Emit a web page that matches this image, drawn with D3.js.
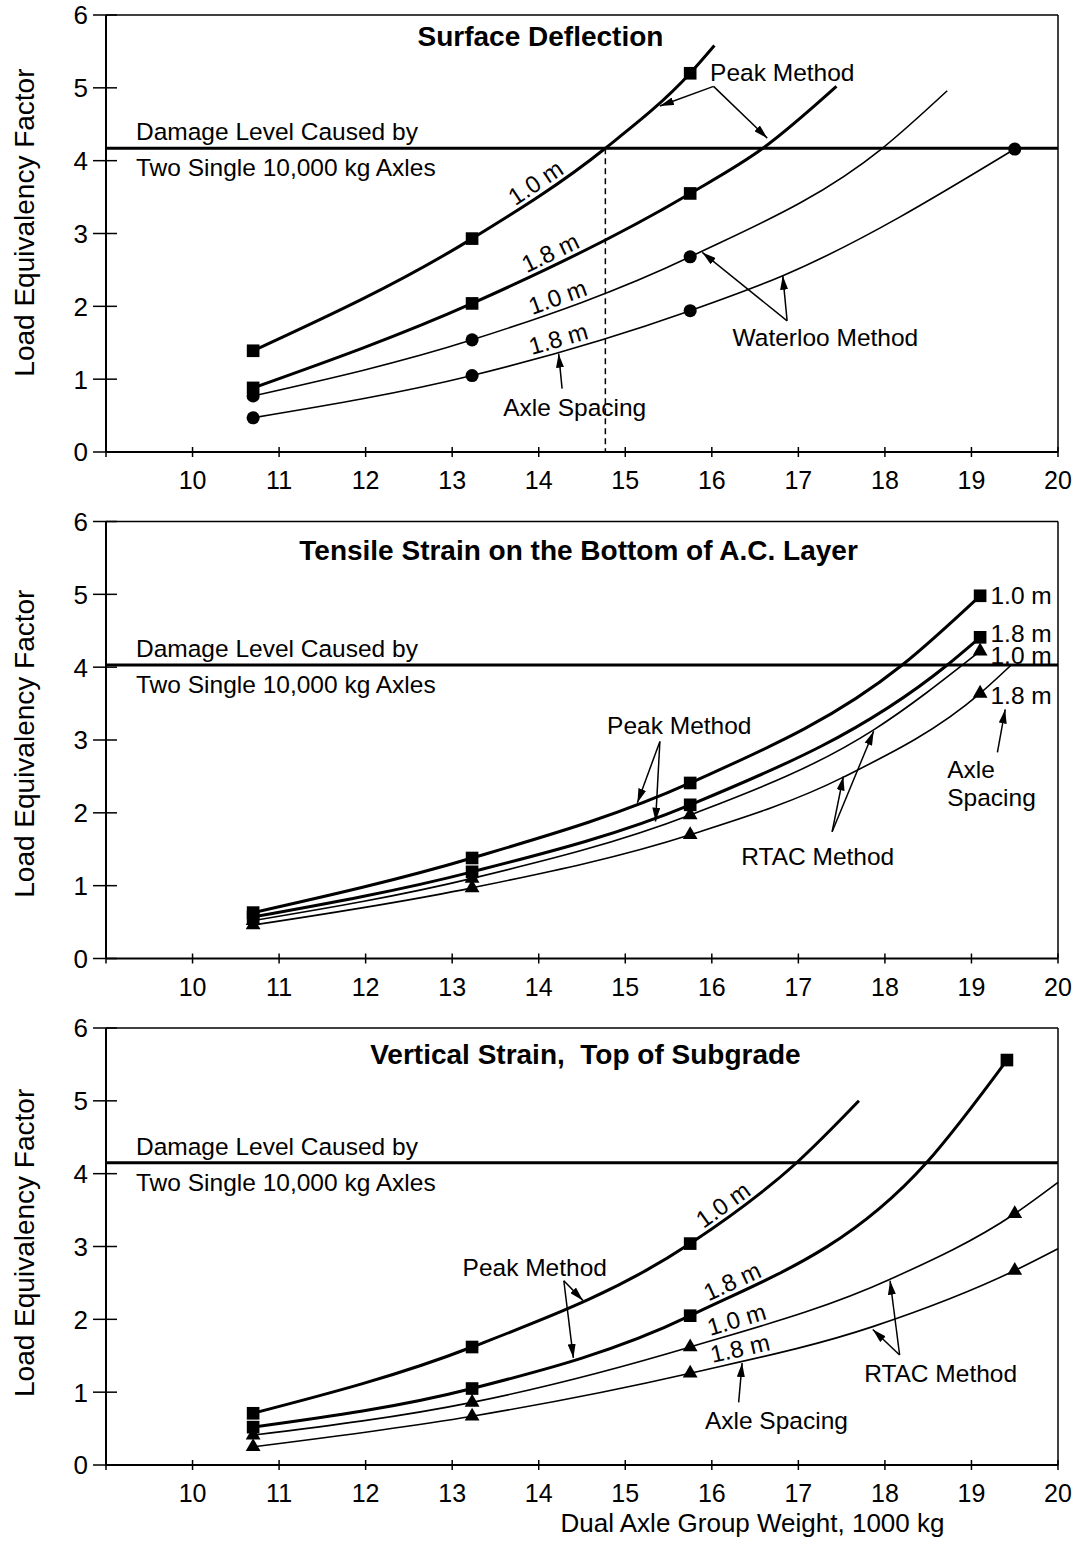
<!DOCTYPE html>
<html>
<head>
<meta charset="utf-8">
<script src="https://cdn.jsdelivr.net/npm/d3@7"></script>
<style>
	body { margin: 0; background: #fff; }
	svg text { font-family: "Liberation Sans", Arial, Helvetica, sans-serif; fill: #000; }
</style>
</head>
<body>
<div id="chart"></div>
<script>
// weights in 1000 kg, values are load equivalency factors
const xTicks = [9, 10, 11, 12, 13, 14, 15, 16, 17, 18, 19, 20];
const yTicks = [0, 1, 2, 3, 4, 5, 6];
const titles = ['Surface Deflection', 'Tensile Strain on the Bottom of A.C. Layer', 'Vertical Strain,  Top of Subgrade'];
const damageLevels = [4.17, 4.03, 4.15];

// surface deflection
const surfLoads = [10.7, 13.23, 15.75];
const surfLoadsLong = [10.7, 13.23, 15.75, 19.5];
const surfPeak10 = [1.39, 2.93, 5.20];
const surfPeak18 = [0.88, 2.04, 3.55];
const surfWat10 = [0.77, 1.54, 2.68];
const surfWat18 = [0.47, 1.05, 1.94, 4.16];
// extra points (no symbol there)
const surfPeak10Trace = [[14.77, 4.17], [16.03, 5.58]];
const surfPeak18Trace = [[16.59, 4.17], [17.44, 5.02]];
const surfWat10Trace = [[17.97, 4.17], [18.72, 4.96]];
const surfWat18Trace = [[16.82, 2.42]];
const surfCritical = 14.77;

// tensile strain
const tensLoads = [10.7, 13.23, 15.75, 19.1];
const tensPeak10 = [0.63, 1.38, 2.41, 4.98];
const tensPeak18 = [0.57, 1.19, 2.11, 4.41];
const tensRtac10 = [0.52, 1.10, 1.97, 4.22];
const tensRtac18 = [0.46, 0.97, 1.70, 3.64];
const tensPeak10Trace = [[18.20, 4.03]];
const tensPeak18Trace = [[18.72, 4.03]];
const tensRtac10Trace = [[17.87, 3.14]];
const tensRtac18Trace = [[17.52, 2.49], [19.46, 4.03]];

// vertical strain
const vertLoads = [10.7, 13.23, 15.75];
const vertPeak18Loads = [10.7, 13.23, 15.75, 19.41];
const vertRtacLoads = [10.7, 13.23, 15.75, 19.5];
const vertPeak10 = [0.71, 1.62, 3.04];
const vertPeak18 = [0.52, 1.05, 2.05, 5.56];
const vertRtac10 = [0.41, 0.86, 1.62, 3.45];
const vertRtac18 = [0.25, 0.67, 1.26, 2.67];
const vertPeak10Trace = [[16.98, 4.15], [17.70, 5.00]];
const vertPeak18Trace = [[18.48, 4.15]];
const vertRtac10Trace = [[18.06, 2.55], [20, 3.88]];
const vertRtac18Trace = [[17.86, 1.90], [20, 2.97]];

const W = 1080, H = 1551;
const panelH = 437;
const panelTops = [15, 521.5, 1028];

const svg = d3.select('#chart').append('svg')
	.attr('width', W)
	.attr('height', H)
	.style('background', '#fff');

const defs = svg.append('defs');
defs.append('marker')
	.attr('id', 'head')
	.attr('viewBox', '0 0 14 8')
	.attr('refX', 14).attr('refY', 4)
	.attr('markerWidth', 14).attr('markerHeight', 8)
	.attr('markerUnits', 'userSpaceOnUse')
	.attr('orient', 'auto')
	.append('path').attr('d', 'M0,0 L14,4 L0,8 z').attr('fill', '#000');

const xScale = d3.scaleLinear().domain([9, 20]).range([106, 1058]);

function series(loads, values, trace, symbol, heavy) {
	return { loads: loads, values: values, trace: trace, symbol: symbol, heavy: heavy };
}

const panels = [
	{
		series: [
			series(surfLoads, surfPeak10, surfPeak10Trace, 'square', true),
			series(surfLoads, surfPeak18, surfPeak18Trace, 'square', true),
			series(surfLoads, surfWat10, surfWat10Trace, 'circle', false),
			series(surfLoadsLong, surfWat18, surfWat18Trace, 'circle', false)
		],
		curveLabels: [[0, '1.0 m', 14.05], [1, '1.8 m', 14.2], [2, '1.0 m', 14.27], [3, '1.8 m', 14.27]],
		notes: [['Peak Method', 15.98, 5.09], ['Waterloo Method', 16.24, 1.46], ['Axle Spacing', 13.59, 0.50]],
		arrows: [[16.02, 5.02, 15.40, 4.75], [16.02, 5.02, 16.64, 4.31], [16.87, 1.80, 15.89, 2.74],
			[16.87, 1.80, 16.82, 2.42], [14.27, 0.87, 14.23, 1.35]],
		titleAt: [14.02, 5.57],
		yLabelAt: 3.15
	},
	{
		series: [
			series(tensLoads, tensPeak10, tensPeak10Trace, 'square', true),
			series(tensLoads, tensPeak18, tensPeak18Trace, 'square', true),
			series(tensLoads, tensRtac10, tensRtac10Trace, 'triangle', false),
			series(tensLoads, tensRtac18, tensRtac18Trace, 'triangle', false)
		],
		curveLabels: [],
		notes: [['Peak Method', 14.79, 3.08], ['RTAC Method', 16.34, 1.29], ['Axle', 18.72, 2.48], ['Spacing', 18.72, 2.10],
			['1.0 m', 19.22, 4.87], ['1.8 m', 19.22, 4.34], ['1.0 m', 19.22, 4.04], ['1.8 m', 19.22, 3.50]],
		arrows: [[15.40, 2.98, 15.14, 2.14], [15.40, 2.98, 15.35, 1.88], [17.39, 1.74, 17.52, 2.50],
			[17.39, 1.74, 17.87, 3.12], [19.30, 2.83, 19.39, 3.42]],
		titleAt: [14.46, 5.47],
		yLabelAt: 2.95
	},
	{
		series: [
			series(vertLoads, vertPeak10, vertPeak10Trace, 'square', true),
			series(vertPeak18Loads, vertPeak18, vertPeak18Trace, 'square', true),
			series(vertRtacLoads, vertRtac10, vertRtac10Trace, 'triangle', false),
			series(vertRtacLoads, vertRtac18, vertRtac18Trace, 'triangle', false)
		],
		curveLabels: [[0, '1.0 m', 16.22], [1, '1.8 m', 16.3], [2, '1.0 m', 16.33], [3, '1.8 m', 16.36]],
		notes: [['Peak Method', 13.12, 2.60], ['RTAC Method', 17.76, 1.14], ['Axle Spacing', 15.92, 0.49]],
		arrows: [[14.29, 2.53, 14.51, 2.26], [14.29, 2.53, 14.40, 1.47], [18.17, 1.51, 18.06, 2.53],
			[18.17, 1.51, 17.86, 1.86], [16.31, 0.86, 16.35, 1.40]],
		titleAt: [14.54, 5.51],
		yLabelAt: 3.05
	}
];

const symbols = {
	square: d3.symbol().type(d3.symbolSquare).size(160),
	circle: d3.symbol().type(d3.symbolCircle).size(135),
	triangle: d3.symbol().type(d3.symbolTriangle).size(95)
};

function lengthAtX(node, px) {
	let lo = 0, hi = node.getTotalLength();
	for (let i = 0; i < 40; i++) {
		let mid = (lo + hi) / 2;
		if (node.getPointAtLength(mid).x < px) lo = mid; else hi = mid;
	}
	return lo;
}

panels.forEach(function (panel, i) {
	let top = panelTops[i],
		yScale = d3.scaleLinear().domain([0, 6]).range([top + panelH, top]),
		g = svg.append('g'),
		line = d3.line()
			.x(d => xScale(d[0]))
			.y(d => yScale(d[1]))
			.curve(d3.curveMonotoneX),
		paths = [];

	// frame
	g.append('line')
		.attr('x1', xScale(9)).attr('x2', xScale(20))
		.attr('y1', yScale(6)).attr('y2', yScale(6))
		.attr('stroke', '#000').attr('stroke-width', 1.5);
	g.append('line')
		.attr('x1', xScale(20)).attr('x2', xScale(20))
		.attr('y1', yScale(6)).attr('y2', yScale(0))
		.attr('stroke', '#000').attr('stroke-width', 1.5);

	// axes
	g.append('line')
		.attr('x1', xScale(9)).attr('x2', xScale(9))
		.attr('y1', yScale(6)).attr('y2', yScale(0))
		.attr('stroke', '#000').attr('stroke-width', 2);
	g.append('line')
		.attr('x1', xScale(9)).attr('x2', xScale(20))
		.attr('y1', yScale(0)).attr('y2', yScale(0))
		.attr('stroke', '#000').attr('stroke-width', 2);

	g.selectAll('.ytick').data(yTicks).enter().append('line')
		.attr('x1', xScale(9) - 13).attr('x2', xScale(9) + 11)
		.attr('y1', d => yScale(d)).attr('y2', d => yScale(d))
		.attr('stroke', '#000').attr('stroke-width', 1.5);
	g.selectAll('.ylab').data(yTicks).enter().append('text')
		.attr('x', xScale(9) - 18)
		.attr('y', d => yScale(d))
		.attr('dy', '0.36em')
		.attr('text-anchor', 'end')
		.attr('font-size', 26)
		.text(d => d);

	g.selectAll('.xtick').data(xTicks).enter().append('line')
		.attr('x1', d => xScale(d)).attr('x2', d => xScale(d))
		.attr('y1', yScale(0) - 5).attr('y2', yScale(0) + 5)
		.attr('stroke', '#000').attr('stroke-width', 1.5);
	g.selectAll('.xlab').data(xTicks.filter(d => d >= 10)).enter().append('text')
		.attr('x', d => xScale(d))
		.attr('y', yScale(0) + 37)
		.attr('text-anchor', 'middle')
		.attr('font-size', 25)
		.text(d => d);

	g.append('text')
		.attr('transform', 'translate(24,' + yScale(panel.yLabelAt) + ') rotate(-90)')
		.attr('dy', '0.36em')
		.attr('text-anchor', 'middle')
		.attr('font-size', 28)
		.text('Load Equivalency Factor');

	// title
	g.append('text')
		.attr('x', xScale(panel.titleAt[0]))
		.attr('y', yScale(panel.titleAt[1]))
		.attr('text-anchor', 'middle')
		.attr('font-size', 28)
		.attr('font-weight', 'bold')
		.style('white-space', 'pre')
		.text(titles[i]);

	// damage level
	let dy = yScale(damageLevels[i]);
	g.append('line')
		.attr('x1', xScale(9)).attr('x2', xScale(20))
		.attr('y1', dy).attr('y2', dy)
		.attr('stroke', '#000').attr('stroke-width', 3);
	g.append('text').attr('x', xScale(9) + 30).attr('y', dy - 8)
		.attr('font-size', 24.5).text('Damage Level Caused by');
	g.append('text').attr('x', xScale(9) + 30).attr('y', dy + 28)
		.attr('font-size', 24.5).text('Two Single 10,000 kg Axles');

	if (i === 0) {
		g.append('line')
			.attr('x1', xScale(surfCritical)).attr('x2', xScale(surfCritical))
			.attr('y1', dy).attr('y2', yScale(0))
			.attr('stroke', '#000').attr('stroke-width', 1.5)
			.attr('stroke-dasharray', '6,4');
	}

	// curves
	panel.series.forEach(function (s) {
		let pts = s.loads.map((x, k) => [x, s.values[k]]).concat(s.trace).sort((a, b) => a[0] - b[0]);
		let p = g.append('path')
			.datum(pts)
			.attr('fill', 'none')
			.attr('stroke', '#000')
			.attr('stroke-width', s.heavy ? 3 : 1.6)
			.attr('d', line);
		paths.push(p.node());
	});

	panel.series.forEach(function (s) {
		g.selectAll(null).data(s.loads.map((x, k) => [x, s.values[k]])).enter().append('path')
			.attr('transform', d => 'translate(' + xScale(d[0]) + ',' + yScale(d[1]) + ')')
			.attr('d', symbols[s.symbol])
			.attr('fill', '#000');
	});

	// spacing labels along the curves
	panel.curveLabels.forEach(function (c) {
		let node = paths[c[0]],
			l = lengthAtX(node, xScale(c[2])),
			p = node.getPointAtLength(l),
			a = node.getPointAtLength(Math.max(0, l - 8)),
			b = node.getPointAtLength(l + 8),
			ang = Math.atan2(b.y - a.y, b.x - a.x) * 180 / Math.PI;
		g.append('text')
			.attr('transform', 'translate(' + p.x + ',' + p.y + ') rotate(' + ang + ')')
			.attr('y', -5)
			.attr('text-anchor', 'middle')
			.attr('font-size', 24)
			.text(c[1]);
	});

	g.selectAll(null).data(panel.notes).enter().append('text')
		.attr('x', d => xScale(d[1]))
		.attr('y', d => yScale(d[2]))
		.attr('font-size', 24.5)
		.text(d => d[0]);

	g.selectAll(null).data(panel.arrows).enter().append('line')
		.attr('x1', d => xScale(d[0])).attr('y1', d => yScale(d[1]))
		.attr('x2', d => xScale(d[2])).attr('y2', d => yScale(d[3]))
		.attr('stroke', '#000').attr('stroke-width', 1.5)
		.attr('marker-end', 'url(#head)');

	if (i === 2) {
		svg.append('text')
			.attr('x', xScale(16.47))
			.attr('y', yScale(0) + 67)
			.attr('text-anchor', 'middle')
			.attr('font-size', 26)
			.text('Dual Axle Group Weight, 1000 kg');
	}
});
</script>
</body>
</html>
